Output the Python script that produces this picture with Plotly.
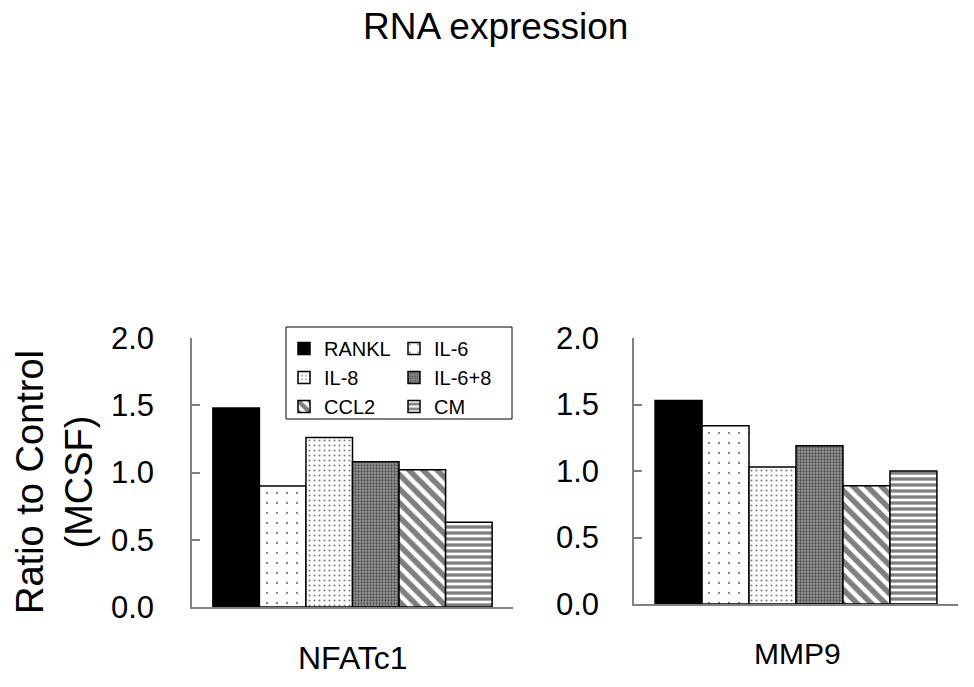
import plotly.graph_objects as go

W, H = 974, 687

genes = ["NFATc1", "MMP9"]
series = ["RANKL", "IL-6", "IL-8", "IL-6+8", "CCL2", "CM"]
nfatc1_vals = [1.48, 0.90, 1.26, 1.08, 1.02, 0.63]
mmp9_vals = [1.53, 1.34, 1.03, 1.19, 0.89, 1.00]
y_ticks = [0.0, 0.5, 1.0, 1.5, 2.0]
y_tick_text = ["0.0", "0.5", "1.0", "1.5", "2.0"]

FONT = "Liberation Sans, Arial, sans-serif"

patterns = {
    "RANKL": None,
    "IL-6": dict(shape=".", size=10, solidity=0.04, fgcolor="black", bgcolor="white", fillmode="overlay"),
    "IL-8": dict(shape=".", size=5, solidity=0.15, fgcolor="black", bgcolor="white", fillmode="overlay"),
    "IL-6+8": dict(shape=".", size=3, solidity=0.45, fgcolor="black", bgcolor="#9a9a9a", fillmode="overlay"),
    "CCL2": dict(shape="\\", size=10, solidity=0.55, fgcolor="black", bgcolor="white", fillmode="overlay"),
    "CM": dict(shape="-", size=6, solidity=0.55, fgcolor="black", bgcolor="white", fillmode="overlay"),
}
legend_of = {"RANKL": "legend", "IL-8": "legend", "CCL2": "legend",
             "IL-6": "legend2", "IL-6+8": "legend2", "CM": "legend2"}

fig = go.Figure()
for gi, (gene, vals) in enumerate([(genes[0], nfatc1_vals), (genes[1], mmp9_vals)]):
    xa = "x" if gi == 0 else "x2"
    ya = "y" if gi == 0 else "y2"
    for s, v in zip(series, vals):
        pat = patterns[s]
        marker = dict(color="black" if pat is None else "white",
                      line=dict(color="black", width=1.5))
        if pat is not None:
            marker["pattern"] = pat
        fig.add_trace(go.Bar(
            x=[gene], y=[v], name=s, marker=marker,
            xaxis=xa, yaxis=ya,
            showlegend=(gi == 0), legend=legend_of[s],
        ))

def px_x(p):
    return p / W

def px_y(p):
    return 1 - p / H

axis_common = dict(showline=True, linecolor="#808080", linewidth=1.5,
                   showgrid=False, zeroline=False, automargin=False)

fig.update_layout(
    width=W, height=H,
    margin=dict(l=0, r=0, t=0, b=0),
    paper_bgcolor="white", plot_bgcolor="white",
    barmode="group", bargap=0.13, bargroupgap=0,
    font=dict(family=FONT, color="black"),
    template="none",
    xaxis=dict(domain=[px_x(192), px_x(513)], anchor="y", type="category",
               range=[-0.5, 0.5], tickson="boundaries", ticks="inside", ticklen=9,
               tickcolor="#808080", tickwidth=1.5, showticklabels=False, **axis_common),
    yaxis=dict(domain=[px_y(607), px_y(338)], anchor="x", range=[0, 2],
               tickvals=y_ticks, ticktext=y_tick_text, ticks="inside", ticklen=8,
               tickcolor="#808080", tickwidth=1.5, ticklabelstandoff=30,
               tickfont=dict(size=31, family=FONT, color="black"), **axis_common),
    xaxis2=dict(domain=[px_x(634), px_x(958)], anchor="y2", type="category",
                range=[-0.5, 0.5], tickson="boundaries", ticks="inside", ticklen=9,
                tickcolor="#808080", tickwidth=1.5, showticklabels=False, **axis_common),
    yaxis2=dict(domain=[px_y(604), px_y(338)], anchor="x2", range=[0, 2],
                tickvals=y_ticks, ticktext=y_tick_text, ticks="inside", ticklen=8,
                tickcolor="#808080", tickwidth=1.5, ticklabelstandoff=27,
                tickfont=dict(size=31, family=FONT, color="black"), **axis_common),
    legend=dict(x=px_x(284), y=px_y(329), xanchor="left", yanchor="top",
                bgcolor="rgba(0,0,0,0)", borderwidth=0, itemwidth=30,
                font=dict(size=20, family=FONT, color="black"), tracegroupgap=0),
    legend2=dict(x=px_x(394), y=px_y(329), xanchor="left", yanchor="top",
                 bgcolor="rgba(0,0,0,0)", borderwidth=0, itemwidth=30,
                 font=dict(size=20, family=FONT, color="black"), tracegroupgap=0),
    shapes=[dict(type="rect", xref="paper", yref="paper",
                 x0=px_x(286), x1=px_x(512), y0=px_y(419), y1=px_y(327),
                 line=dict(color="black", width=1), fillcolor="rgba(0,0,0,0)")],
    annotations=[
        dict(text="RNA expression", x=px_x(495), y=px_y(26), xref="paper", yref="paper",
             showarrow=False, xanchor="center", yanchor="middle",
             font=dict(size=37, family=FONT, color="black")),
        dict(text=genes[0], x=px_x(353), y=px_y(658), xref="paper", yref="paper",
             showarrow=False, xanchor="center", yanchor="middle",
             font=dict(size=32, family=FONT, color="black")),
        dict(text=genes[1], x=px_x(797), y=px_y(653), xref="paper", yref="paper",
             showarrow=False, xanchor="center", yanchor="middle",
             font=dict(size=30, family=FONT, color="black")),
        dict(text="Ratio to Control<br>(MCSF)", x=px_x(54), y=px_y(482), xref="paper", yref="paper",
             showarrow=False, xanchor="center", yanchor="middle", textangle=-90,
             font=dict(size=38, family=FONT, color="black")),
    ],
)

fig.write_html("out.html", config={"displayModeBar": False},
               post_script="document.body.style.margin='0';")
